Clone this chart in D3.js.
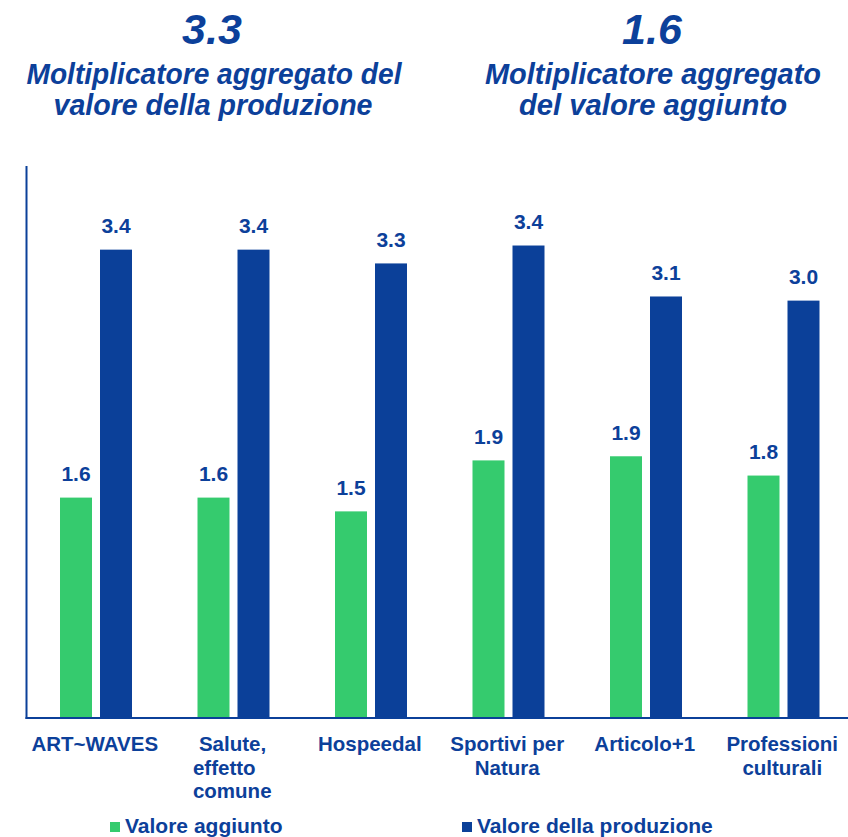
<!DOCTYPE html>
<html>
<head>
<meta charset="utf-8">
<script src="https://cdn.jsdelivr.net/npm/d3@7"></script>
<style>
  html, body { margin: 0; padding: 0; background: #ffffff; }
  svg { display: block; font-family: "Liberation Sans", Arial, sans-serif; }
</style>
</head>
<body>
<svg id="chart" width="848" height="837"></svg>
<script>
// ---- data ----
const categories = ["ART~WAVES", "Salute, effetto comune", "Hospeedal", "Sportivi per Natura", "Articolo+1", "Professioni culturali"];
const categoryLines = [["ART~WAVES"], ["Salute,", "effetto", "comune"], ["Hospeedal"], ["Sportivi per", "Natura"], ["Articolo+1"], ["Professioni", "culturali"]];
const seriesNames = ["Valore aggiunto", "Valore della produzione"];
const valoreAggiunto = [1.6, 1.6, 1.5, 1.87, 1.9, 1.76];
const valoreProduzione = [3.4, 3.4, 3.3, 3.43, 3.06, 3.03];
const headlineValues = ["3.3", "1.6"];
const headlineTitles = [["Moltiplicatore aggregato del", "valore della produzione"], ["Moltiplicatore aggregato", "del valore aggiunto"]];

// ---- styles ----
const BLUE = "#0b4099";
const GREEN = "#35cb6e";
const TEXT = "#0c409a";
const seriesColors = [GREEN, BLUE];

const svg = d3.select("#chart");

const baseY = 718, topY = 167;
const x0 = d3.scaleBand().domain(categories).range([26, 851]).paddingInner(0).paddingOuter(0);
const x1 = d3.scaleBand().domain(seriesNames).range([34, 106]).paddingInner(0.2).paddingOuter(0);
const y = d3.scaleLinear().domain([0, 4]).range([baseY, topY]);

const rows = categories.map((c, i) => ({ cat: c, vals: [valoreAggiunto[i], valoreProduzione[i]] }));

// bars
const g = svg.append("g");
const groups = g.selectAll("g.grp").data(rows).join("g")
  .attr("class", "grp")
  .attr("transform", d => `translate(${x0(d.cat)},0)`);

groups.selectAll("rect").data(d => d.vals.map((v, j) => ({ v, s: seriesNames[j], j })))
  .join("rect")
  .attr("x", d => x1(d.s))
  .attr("width", x1.bandwidth())
  .attr("y", d => y(d.v))
  .attr("height", d => y(0) - y(d.v))
  .attr("fill", d => seriesColors[d.j]);

groups.selectAll("text.lbl").data(d => d.vals.map((v, j) => ({ v, s: seriesNames[j], j })))
  .join("text")
  .attr("class", "lbl")
  .attr("x", d => x1(d.s) + x1.bandwidth() / 2)
  .attr("y", d => y(d.v) - 16.5)
  .attr("text-anchor", "middle")
  .attr("font-size", 21)
  .attr("font-weight", "bold")
  .attr("fill", TEXT)
  .text(d => d3.format(".1f")(d.v));

// axes lines
svg.append("line").attr("x1", 26.5).attr("x2", 26.5).attr("y1", y(4) - 1).attr("y2", baseY + 1)
  .attr("stroke", BLUE).attr("stroke-width", 2);
svg.append("line").attr("x1", 25.5).attr("x2", 848).attr("y1", baseY).attr("y2", baseY)
  .attr("stroke", BLUE).attr("stroke-width", 2);

// category labels (multi-line blocks; the "Salute" block is left-aligned like the original)
const catG = svg.append("g");
categories.forEach((c, i) => {
  const cx = x0(c) + x0.bandwidth() / 2;
  const t = catG.append("text")
    .attr("font-size", 20.5)
    .attr("font-weight", "bold")
    .attr("fill", TEXT);
  const lines = categoryLines[i];
  const spans = lines.map((ln, k) => t.append("tspan").attr("y", 751 + k * 23.5).text(ln));
  if (lines.length === 3) {
    const widths = spans.map(s => s.node().getComputedTextLength());
    const left = cx - d3.max(widths) / 2;
    spans.forEach((s, k) => s.attr("x", left + (k === 0 ? 6 : 0)));
  } else {
    t.attr("text-anchor", "middle");
    spans.forEach(s => s.attr("x", cx));
  }
});

// headlines
const headCenters = [212, 652];
const titleWidths = [[375, 319], [336, 268]];
headlineValues.forEach((v, i) => {
  svg.append("text")
    .attr("x", headCenters[i]).attr("y", 44)
    .attr("text-anchor", "middle")
    .attr("font-size", 43).attr("font-weight", "bold").attr("font-style", "italic")
    .attr("fill", TEXT)
    .text(v);
  headlineTitles[i].forEach((ln, k) => {
    svg.append("text")
      .attr("x", headCenters[i] + (i === 0 && k === 0 ? 2 : 1)).attr("y", 84 + k * 31)
      .attr("text-anchor", "middle")
      .attr("font-size", 30).attr("font-weight", "bold").attr("font-style", "italic")
      .attr("textLength", titleWidths[i][k]).attr("lengthAdjust", "spacingAndGlyphs")
      .attr("fill", TEXT)
      .text(ln);
  });
});

// legend
const legendX = [110, 462];
seriesNames.forEach((s, i) => {
  svg.append("rect").attr("x", legendX[i]).attr("y", 822).attr("width", 10).attr("height", 10)
    .attr("fill", seriesColors[i]);
  svg.append("text").attr("x", legendX[i] + 15).attr("y", 833)
    .attr("font-size", 21).attr("font-weight", "bold").attr("fill", TEXT)
    .text(s);
});
</script>
</body>
</html>
